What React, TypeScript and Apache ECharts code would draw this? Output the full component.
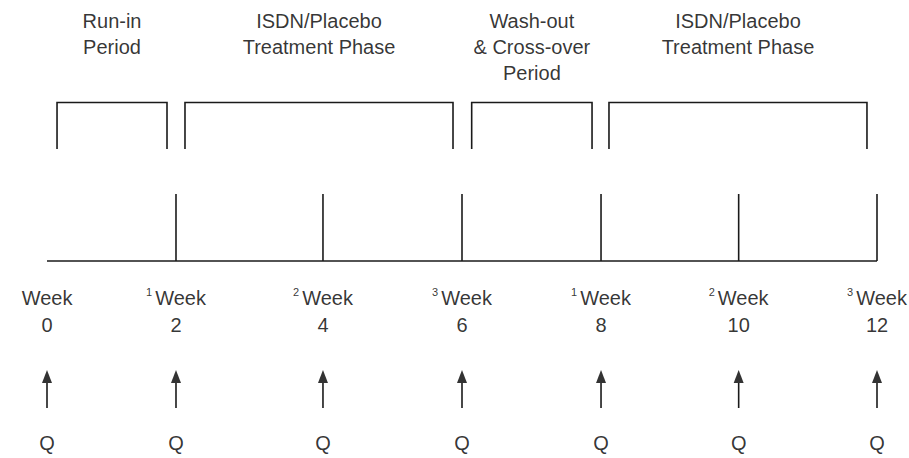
import React, { useEffect, useRef } from "react";
import * as echarts from "echarts";

// ---- data ----
const phaseLabels = [
  "Run-in\nPeriod",
  "ISDN/Placebo\nTreatment Phase",
  "Wash-out\n& Cross-over\nPeriod",
  "ISDN/Placebo\nTreatment Phase",
];
const phaseStart = [0.145, 1.995, 6.14, 8.125];
const phaseEnd = [1.735, 5.87, 7.88, 11.855];

const weekLabels = ["0", "2", "4", "6", "8", "10", "12"];
const weekPos = [0, 1.865, 3.99, 6.0, 8.01, 10.0, 12];
const visitMarks = ["", "1", "2", "3", "1", "2", "3"];
const assessLabels = ["Q", "Q", "Q", "Q", "Q", "Q", "Q"];

// ---- layout (pixel rows on an inverted 0..458 axis) ----
const Y = {
  phaseTop: 8,
  bracketTop: 102.5,
  bracketBottom: 149,
  tickTop: 194,
  baseline: 261,
  weekRow: 298,
  numRow: 325,
  head: 376.5,
  headBottom: 383,
  shaftBottom: 408,
  qRow: 443,
};
const FONT = "'Liberation Sans', Arial, Helvetica, sans-serif";
const INK = "#000";
const LINE = "#1a1a1a";

export default function App() {
  const ref = useRef<HTMLDivElement>(null);
  useEffect(() => {
    document.body.style.margin = "0";
    if (!ref.current) return;
    const chart = echarts.init(ref.current, undefined, { renderer: "svg" });

    const segs: any[] = [];
    segs.push({ coords: [[weekPos[0], Y.baseline], [weekPos[weekPos.length - 1], Y.baseline]] });
    weekPos.forEach((p, i) => {
      if (i > 0) segs.push({ coords: [[p, Y.tickTop], [p, Y.baseline]] });
      segs.push({ coords: [[p, Y.headBottom], [p, Y.shaftBottom]] });
    });
    phaseStart.forEach((s, i) => {
      const e = phaseEnd[i];
      segs.push({
        coords: [
          [s, Y.bracketBottom],
          [s, Y.bracketTop],
          [e, Y.bracketTop],
          [e, Y.bracketBottom],
        ],
      });
    });

    const textSeries = (data: any[], label: any) => ({
      type: "scatter",
      symbol: "circle",
      symbolSize: 1,
      itemStyle: { color: "transparent" },
      silent: true,
      emphasis: { disabled: true },
      data,
      label: {
        show: true,
        position: "inside",
        align: "center",
        verticalAlign: "middle",
        color: INK,
        fontFamily: FONT,
        fontSize: 20,
        ...label,
      },
    });

    chart.setOption({
      animation: false,
      grid: { left: 47, right: 32, top: 0, bottom: 0 },
      xAxis: { type: "value", min: 0, max: 12, show: false },
      yAxis: { type: "value", min: 0, max: 458, inverse: true, show: false },
      series: [
        {
          type: "lines",
          coordinateSystem: "cartesian2d",
          polyline: true,
          silent: true,
          lineStyle: { color: LINE, width: 1.6, opacity: 1 },
          data: segs,
        },
        {
          type: "scatter",
          symbol: "triangle",
          symbolSize: [10, 13],
          itemStyle: { color: "#000" },
          silent: true,
          data: weekPos.map((p) => [p, Y.head]),
        },
        textSeries(
          phaseLabels.map((t, i) => ({ value: [(phaseStart[i] + phaseEnd[i]) / 2, Y.phaseTop], name: t })),
          { formatter: (p: any) => p.name, verticalAlign: "top", lineHeight: 26 }
        ),
        textSeries(
          weekPos.map((p, i) => ({ value: [p, Y.weekRow], name: visitMarks[i] })),
          {
            formatter: (p: any) => (p.name ? `{s|${p.name}}{w|Week}` : `{w|Week}`),
            rich: {
              w: { fontSize: 20, fontFamily: FONT, color: INK, lineHeight: 24 },
              s: { fontSize: 11, fontFamily: FONT, color: INK, lineHeight: 18, verticalAlign: "top", padding: [0, 3, 0, 0] },
            },
          }
        ),
        textSeries(
          weekPos.map((p, i) => ({ value: [p, Y.numRow], name: weekLabels[i] })),
          { formatter: (p: any) => p.name }
        ),
        textSeries(
          weekPos.map((p, i) => ({ value: [p, Y.qRow], name: assessLabels[i] })),
          { formatter: (p: any) => p.name }
        ),
      ],
    });
    return () => chart.dispose();
  }, []);
  return <div ref={ref} style={{ width: 909, height: 458 }} />;
}
